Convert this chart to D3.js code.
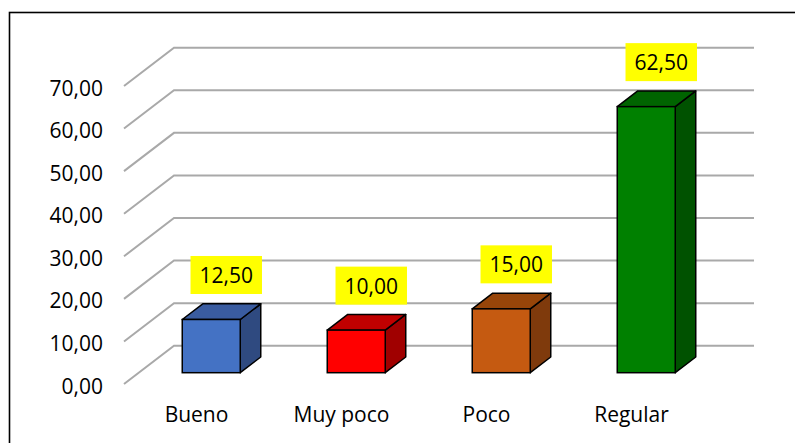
<!DOCTYPE html>
<html>
<head>
<meta charset="utf-8">
<script src="https://cdn.jsdelivr.net/npm/d3@7"></script>
<style>
  html, body { margin: 0; padding: 0; background: #fff; }
  svg { display: block; }
  text { font-family: "Open Sans", sans-serif; fill: #000; }
</style>
</head>
<body>
<svg id="chart" width="795" height="443"></svg>
<script>
// ---- data ----
const categories = ["Bueno", "Muy poco", "Poco", "Regular"];
const values = [12.5, 10.0, 15.0, 62.5];
const labels = ["12,50", "10,00", "15,00", "62,50"];
const yTicks = [0, 10, 20, 30, 40, 50, 60, 70];
const yTickLabels = ["0,00", "10,00", "20,00", "30,00", "40,00", "50,00", "60,00", "70,00"];
const frontColors = ["#4472C4", "#FF0000", "#C55A11", "#008000"];
const topColors = ["#3A5CA0", "#C00000", "#974509", "#006400"];
const sideColors = ["#2F4A80", "#A00000", "#7F3A0C", "#005200"];

// ---- layout ----
const svg = d3.select("#chart");
const W = 795, H = 443;
const fontSize = 21;
const depthDX = 50, depthDY = 38.3;      // full floor depth projection
const barD0 = 0.295, barD1 = 0.705;      // bar depth span (fraction)

const y = d3.scaleLinear().domain([0, 70]).range([384, 86]);
const x = d3.scaleBand().domain(categories).range([124, 704]).paddingInner(0).paddingOuter(0);

// chart border (only top/left visible)
svg.append("rect")
  .attr("x", 9.5).attr("y", 12.5)
  .attr("width", 820).attr("height", 460)
  .attr("fill", "none").attr("stroke", "#000").attr("stroke-width", 1.6);

// gridlines (side wall diagonal + back wall horizontal)
const backRight = x.range()[0] + depthDX + x.step() * categories.length;
svg.append("g").selectAll("path").data(yTicks).join("path")
  .attr("d", v => {
    const yf = y(v);
    return `M${x.range()[0]},${yf} L${x.range()[0] + depthDX},${yf - depthDY} L${backRight},${yf - depthDY}`;
  })
  .attr("fill", "none").attr("stroke", "#A9A9A9").attr("stroke-width", 2);

// y axis labels
svg.append("g").selectAll("text").data(yTicks).join("text")
  .attr("x", 103).attr("y", v => y(v) + 9.5)
  .attr("text-anchor", "end")
  .attr("font-size", fontSize)
  .text((v, i) => yTickLabels[i]);

// category labels
svg.append("g").selectAll("text").data(categories).join("text")
  .attr("x", c => x(c) + x.bandwidth() / 2)
  .attr("y", 422)
  .attr("text-anchor", "middle")
  .attr("font-size", fontSize)
  .text(c => c);

// bars
const barW = x.bandwidth() * 0.4;
const offX = depthDX * barD0, offY = depthDY * barD0;
const bdx = depthDX * (barD1 - barD0), bdy = depthDY * (barD1 - barD0);

const bars = svg.append("g").selectAll("g").data(categories).join("g");
bars.each(function(c, i) {
  const g = d3.select(this);
  const x0 = x(c) + (x.bandwidth() - barW) / 2 + offX;
  const x1 = x0 + barW;
  const yB = y(0) - offY;
  const yT = y(values[i]) - offY;
  const stroke = { stroke: "#000", "stroke-width": 1.5, "stroke-linejoin": "round" };
  // side
  g.append("path")
    .attr("d", `M${x1},${yT} L${x1 + bdx},${yT - bdy} L${x1 + bdx},${yB - bdy} L${x1},${yB} Z`)
    .attr("fill", sideColors[i]).attr("stroke", stroke.stroke).attr("stroke-width", stroke["stroke-width"]).attr("stroke-linejoin", "round");
  // top
  g.append("path")
    .attr("d", `M${x0},${yT} L${x1},${yT} L${x1 + bdx},${yT - bdy} L${x0 + bdx},${yT - bdy} Z`)
    .attr("fill", topColors[i]).attr("stroke", stroke.stroke).attr("stroke-width", stroke["stroke-width"]).attr("stroke-linejoin", "round");
  // front
  g.append("rect")
    .attr("x", x0).attr("y", yT).attr("width", barW).attr("height", yB - yT)
    .attr("fill", frontColors[i]).attr("stroke", stroke.stroke).attr("stroke-width", stroke["stroke-width"]);
});

// data labels
const lab = svg.append("g").selectAll("g").data(categories).join("g");
lab.each(function(c, i) {
  const g = d3.select(this);
  const cx = x(c) + x.bandwidth() / 2 + offX + 15;
  const cy = y(values[i]) - offY - 44.5;
  const rect = g.append("rect").attr("fill", "#FFFF00");
  const t = g.append("text")
    .attr("x", cx).attr("y", cy + 8)
    .attr("text-anchor", "middle")
    .attr("font-size", fontSize)
    .text(labels[i]);
  const tw = t.node().getComputedTextLength();
  const bw = tw + 18, bh = 38;
  rect.attr("x", cx - bw / 2).attr("y", cy - bh / 2).attr("width", bw).attr("height", bh);
});
</script>
</body>
</html>
